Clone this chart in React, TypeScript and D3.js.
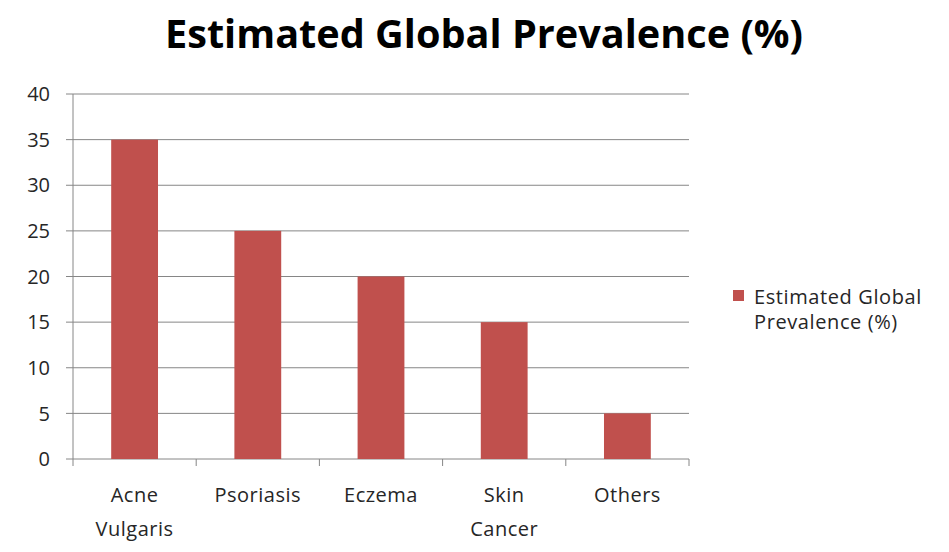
import React from "react";
import * as d3 from "d3";

const categories: string[][] = [["Acne", "Vulgaris"], ["Psoriasis"], ["Eczema"], ["Skin", "Cancer"], ["Others"]];
const values: number[] = [35, 25, 20, 15, 5];
const yTicks: number[] = [0, 5, 10, 15, 20, 25, 30, 35, 40];
const seriesName = ["Estimated Global", "Prevalence (%)"];
const title = "Estimated Global Prevalence (%)";

const W = 949;
const H = 552;
const left = 73;
const right = 689;
const top = 94;
const bottom = 459;
const barColor = "#C0504D";
const gridColor = "#868686";
const textColor = "#262626";
const font = "'Open Sans', 'Liberation Sans', sans-serif";

export default function App() {
  const keys = categories.map((c) => c.join(" "));
  const x = d3.scaleBand<string>().domain(keys).range([left, right]).paddingInner(0.62).paddingOuter(0.31);
  const y = d3.scaleLinear().domain([0, 40]).range([bottom, top]);
  const band = (right - left) / keys.length;

  return (
    <svg width={W} height={H} style={{ position: "absolute", left: 0, top: 0, background: "#fff" }}>
      <rect width={W} height={H} fill="#fff" />
      <text x={484} y={48} textAnchor="middle" fontFamily={font} fontWeight="bold" fontSize={40}
        textLength={638} lengthAdjust="spacingAndGlyphs" fill="#000">{title}</text>

      {yTicks.map((t) => (
        <g key={t}>
          <line x1={left - 7} x2={right} y1={y(t)} y2={y(t)} stroke={gridColor} strokeWidth={1} />
          <text x={50} y={y(t)} dy="0.36em" textAnchor="end" fontFamily={font} fontSize={20} fill={textColor}>{t}</text>
        </g>
      ))}
      <line x1={left} x2={left} y1={top} y2={bottom} stroke={gridColor} strokeWidth={1} />

      {d3.range(keys.length + 1).map((i) => (
        <line key={i} x1={left + i * band} x2={left + i * band} y1={bottom} y2={bottom + 7} stroke={gridColor} strokeWidth={1} />
      ))}

      {keys.map((k, i) => (
        <rect key={k} x={x(k)} y={y(values[i])} width={x.bandwidth()} height={bottom - y(values[i])} fill={barColor} />
      ))}

      {categories.map((lines, i) => (
        <text key={i} x={(x(keys[i]) as number) + x.bandwidth() / 2} y={502} textAnchor="middle"
          fontFamily={font} fontSize={20} letterSpacing={0.5} fill={textColor}>
          {lines.map((l, j) => (
            <tspan key={j} x={(x(keys[i]) as number) + x.bandwidth() / 2} dy={j === 0 ? 0 : 34}>{l}</tspan>
          ))}
        </text>
      ))}

      <rect x={733} y={290} width={11} height={11} fill={barColor} />
      <text x={754} y={304} fontFamily={font} fontSize={20} letterSpacing={0.6} fill={textColor}>
        {seriesName.map((l, j) => (
          <tspan key={j} x={754} dy={j === 0 ? 0 : 25}>{l}</tspan>
        ))}
      </text>
    </svg>
  );
}
